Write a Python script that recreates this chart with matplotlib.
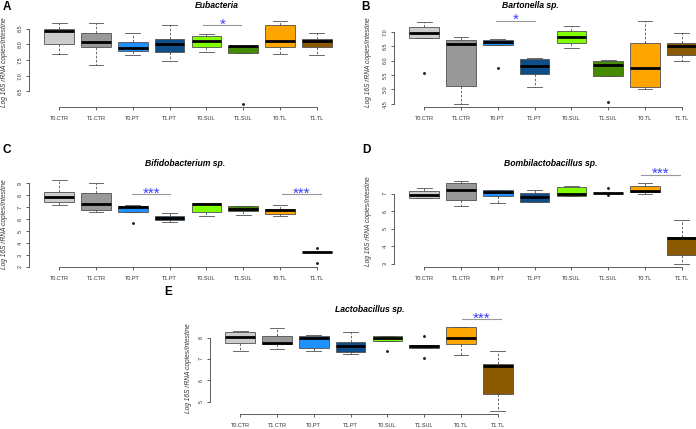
import matplotlib
matplotlib.use("Agg")
import matplotlib.pyplot as plt

plt.rcParams['font.family'] = ['Liberation Sans', 'DejaVu Sans']

W, H = 696, 429

groups = ["T0.CTR", "T1.CTR", "T0.PT", "T1.PT", "T0.SUL", "T1.SUL", "T0.TL", "T1.TL"]
box_colors = ["#CCCCCC", "#999999", "#1E90FF", "#104E8B",
              "#7FFF00", "#458B00", "#FFA500", "#8B5A00"]

# A - Eubacteria
eub_lo  = [7.69, 7.34, 7.67, 7.48, 7.74, 7.72, 7.69, 7.67]
eub_q1  = [8.01, 7.90, 7.77, 7.75, 7.90, 7.72, 7.90, 7.90]
eub_med = [8.41, 8.06, 7.89, 8.02, 8.10, 7.93, 8.09, 8.11]
eub_q3  = [8.49, 8.35, 8.08, 8.17, 8.27, 7.94, 8.62, 8.18]
eub_hi  = [8.66, 8.69, 8.35, 8.60, 8.32, 7.94, 8.73, 8.35]
eub_out = [[], [], [], [], [], [6.11], [], []]

# B - Bartonella sp.
bar_lo  = [6.78, 4.50, 6.53, 5.08, 6.45, 5.48, 5.01, 5.99]
bar_q1  = [6.78, 5.10, 6.53, 5.52, 6.62, 5.48, 5.08, 6.21]
bar_med = [6.95, 6.58, 6.64, 5.83, 6.83, 5.84, 5.76, 6.51]
bar_q3  = [7.17, 6.73, 6.73, 6.06, 7.02, 6.00, 6.62, 6.62]
bar_hi  = [7.33, 6.81, 6.75, 6.09, 7.22, 6.03, 7.37, 6.97]
bar_out = [[5.57], [], [5.73], [], [], [4.55], [], []]

# C - Bifidobacterium sp.
bif_lo  = [7.14, 6.56, 6.62, 5.72, 6.22, 6.31, 6.28, 3.25]
bif_q1  = [7.42, 6.78, 6.62, 5.89, 6.62, 6.64, 6.39, 3.25]
bif_med = [7.83, 7.22, 7.00, 6.08, 7.28, 6.83, 6.78, 3.25]
bif_q3  = [8.25, 8.20, 7.06, 6.28, 7.33, 7.08, 6.87, 3.25]
bif_hi  = [9.23, 9.03, 7.17, 6.53, 7.33, 7.12, 7.20, 3.25]
bif_out = [[], [], [5.67], [], [], [], [], [3.62, 2.33]]

# D - Bombilactobacillus sp.
bom_lo  = [6.74, 6.29, 6.46, 6.53, 6.86, 7.06, 6.97, 3.01]
bom_q1  = [6.74, 6.64, 6.87, 6.53, 6.87, 7.06, 7.10, 3.48]
bom_med = [6.94, 7.25, 7.11, 6.81, 7.02, 7.06, 7.15, 4.48]
bom_q3  = [7.15, 7.62, 7.21, 7.06, 7.40, 7.06, 7.47, 4.55]
bom_hi  = [7.34, 7.72, 7.21, 7.21, 7.47, 7.06, 7.62, 5.51]
bom_out = [[], [], [], [], [], [7.34, 6.91], [], []]

# E - Lactobacillus sp.
lac_lo  = [7.39, 7.47, 7.38, 7.25, 7.86, 7.52, 7.20, 4.57]
lac_q1  = [7.76, 7.71, 7.50, 7.34, 7.86, 7.52, 7.71, 5.35]
lac_med = [8.03, 7.74, 8.00, 7.62, 7.98, 7.60, 7.98, 6.66]
lac_q3  = [8.27, 8.06, 8.06, 7.78, 8.08, 7.66, 8.48, 6.76]
lac_hi  = [8.33, 8.43, 8.14, 8.24, 8.08, 7.66, 8.48, 7.36]
lac_out = [[], [], [], [], [7.39], [8.05, 7.06], [], []]

ylab = "Log 16S rRNA copies/intestine"

panels = [
    dict(letter="A", title="Eubacteria", data=(eub_lo, eub_q1, eub_med, eub_q3, eub_hi, eub_out),
         yticks=[6.5, 7.0, 7.5, 8.0, 8.5], fmt="{:.1f}",
         rect=(29, 18, 347, 107), title_xy=(217, 6), letter_xy=(7, 7), ylab_xy=(5, 62),
         sig=[(4.92, 5.94, 8.60, "*")]),
    dict(letter="B", title="Bartonella sp.", data=(bar_lo, bar_q1, bar_med, bar_q3, bar_hi, bar_out),
         yticks=[4.5, 5.0, 5.5, 6.0, 6.5, 7.0], fmt="{:.1f}",
         rect=(394, 18, 712, 107), title_xy=(530, 6), letter_xy=(366, 7), ylab_xy=(368, 62),
         sig=[(2.95, 4.0, 7.39, "*")]),
    dict(letter="C", title="Bifidobacterium sp.", data=(bif_lo, bif_q1, bif_med, bif_q3, bif_hi, bif_out),
         yticks=[2, 3, 4, 5, 6, 7, 8, 9], fmt="{:d}",
         rect=(29, 177, 347, 267), title_xy=(185, 164), letter_xy=(7, 150), ylab_xy=(5, 224),
         sig=[(2.98, 4.02, 8.06, "***"), (7.05, 8.1, 8.06, "***")]),
    dict(letter="D", title="Bombilactobacillus sp.", data=(bom_lo, bom_q1, bom_med, bom_q3, bom_hi, bom_out),
         yticks=[3, 4, 5, 6, 7], fmt="{:d}",
         rect=(394, 178, 712, 267), title_xy=(551, 164), letter_xy=(366, 150), ylab_xy=(368, 221),
         sig=[(6.9, 7.95, 8.10, "***")]),
    dict(letter="E", title="Lactobacillus sp.", data=(lac_lo, lac_q1, lac_med, lac_q3, lac_hi, lac_out),
         yticks=[5, 6, 7, 8], fmt="{:d}",
         rect=(210, 324, 528, 414), title_xy=(370, 309), letter_xy=(168, 292), ylab_xy=(188, 368),
         sig=[(7.03, 8.1, 8.86, "***")]),
]

fig = plt.figure(figsize=(W / 100, H / 100), dpi=100)
axis_col = "#444444"

for p in panels:
    x0, y0, x1, y1 = p["rect"]
    ax = fig.add_axes([x0 / W, 1 - y1 / H, (x1 - x0) / W, (y1 - y0) / H])
    lo, q1, med, q3, hi, out = p["data"]
    stats = [dict(whislo=a, q1=b, med=c, q3=d, whishi=e, fliers=f)
             for a, b, c, d, e, f in zip(lo, q1, med, q3, hi, out)]
    pos = list(range(1, len(groups) + 1))
    res = ax.bxp(stats, positions=pos, widths=0.8, capwidths=0.4, patch_artist=True,
                 boxprops=dict(edgecolor="#505050", linewidth=0.6),
                 whiskerprops=dict(color="#505050", linewidth=0.6, linestyle=(0, (3, 2))),
                 capprops=dict(color="#505050", linewidth=0.6),
                 medianprops=dict(color="black", linewidth=2.0, solid_capstyle="butt"),
                 flierprops=dict(marker="o", markersize=1.1, markerfacecolor="#222222",
                                 markeredgecolor="#222222", linestyle="none"))
    for patch, c in zip(res["boxes"], box_colors):
        patch.set_facecolor(c)

    vals = lo + hi + [v for o in out for v in o]
    vmin, vmax = min(vals), max(vals)
    pad = 0.04 * (vmax - vmin)
    ax.set_ylim(vmin - pad, vmax + pad)
    ax.set_xlim(0.18, 8.82)

    for s in ("top", "right"):
        ax.spines[s].set_visible(False)
    ax.spines["left"].set_bounds(p["yticks"][0], p["yticks"][-1])
    ax.spines["bottom"].set_bounds(1, 8)
    for s in ("left", "bottom"):
        ax.spines[s].set_color(axis_col)
        ax.spines[s].set_linewidth(0.6)
    ax.set_yticks(p["yticks"])
    ax.set_yticklabels([p["fmt"].format(t) for t in p["yticks"]], rotation=90, va="center")
    ax.set_xticks(pos)
    ax.set_xticklabels(groups)
    ax.tick_params(axis="both", direction="out", length=2.2, width=0.6, color=axis_col,
                   labelsize=4, labelcolor="#333333")
    ax.tick_params(axis="x", pad=4)
    ax.tick_params(axis="y", pad=2.5)
    ax.patch.set_visible(False)

    for xa, xb, yl, lab in p["sig"]:
        ax.plot([xa, xb], [yl, yl], color="#999999", lw=0.8, clip_on=False)
        ax.annotate(lab, xy=((xa + xb) / 2, yl), xytext=(0, -2.4), textcoords="offset points",
                    ha="center", va="baseline", color="#3B3BFF", fontsize=11,
                    annotation_clip=False)

    tx, ty = p["title_xy"]
    fig.text(tx / W, 1 - ty / H, p["title"], ha="center", va="center",
             fontsize=6.2, fontweight="bold", style="italic")
    lx, ly = p["letter_xy"]
    fig.text(lx / W, 1 - ly / H, p["letter"], ha="center", va="center",
             fontsize=8.5, fontweight="bold")
    yx, yy = p["ylab_xy"]
    fig.text(yx / W, 1 - yy / H, ylab, ha="center", va="center", rotation=90,
             fontsize=4.8, style="italic", color="#333333")

fig.savefig("out.png", dpi=100)
